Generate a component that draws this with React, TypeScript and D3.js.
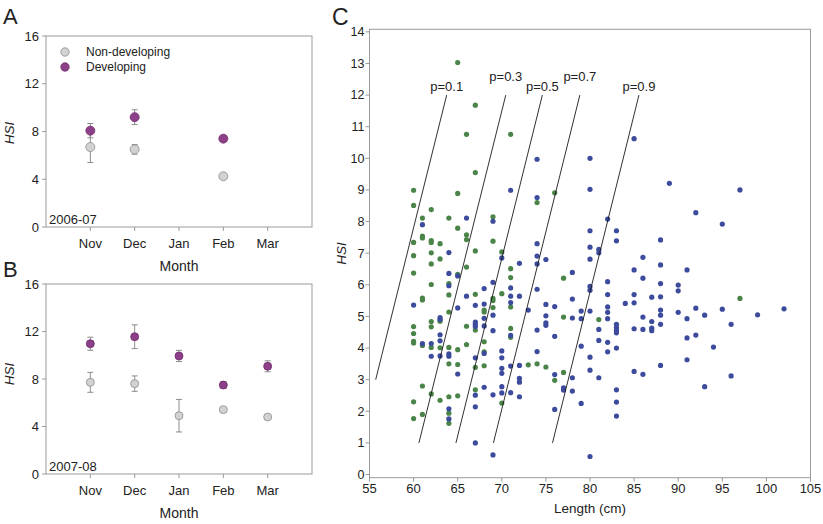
import React from "react";
import * as d3 from "d3";

// ---------- Panels A & B: monthly HSI (mean ± error) ----------
const months = ["Nov", "Dec", "Jan", "Feb", "Mar"];
const yTicksAB = [0, 4, 8, 12, 16];

// 2006-07
const aNonDevMean: (number | null)[] = [6.7, 6.5, null, 4.25, null];
const aNonDevErr: (number | null)[] = [1.3, 0.4, null, 0.05, null];
const aDevMean: (number | null)[] = [8.07, 9.2, null, 7.4, null];
const aDevErr: (number | null)[] = [0.6, 0.62, null, 0.2, null];

// 2007-08
const bNonDevMean: (number | null)[] = [7.72, 7.61, 4.91, 5.42, 4.8];
const bNonDevErr: (number | null)[] = [0.84, 0.65, 1.37, 0.08, 0.08];
const bDevMean: (number | null)[] = [10.97, 11.56, 9.94, 7.49, 9.07];
const bDevErr: (number | null)[] = [0.55, 1.0, 0.47, 0.27, 0.46];

// ---------- Panel C: HSI vs length ----------
const xTicksC = [55, 60, 65, 70, 75, 80, 85, 90, 95, 100, 105];
const yTicksC = [0, 1, 2, 3, 4, 5, 6, 7, 8, 9, 10, 11, 12, 13, 14];

const pLabels = ["p=0.1", "p=0.3", "p=0.5", "p=0.7", "p=0.9"];
// isolines: [length at bottom, HSI at bottom, length at top, HSI at top]
const pLines: [number, number, number, number][] = [
  [55.7, 3.0, 63.75, 12.0],
  [60.6, 1.0, 70.45, 12.0],
  [64.8, 1.0, 74.6, 12.0],
  [69.05, 1.0, 78.85, 12.0],
  [75.75, 1.0, 85.55, 12.0],
];

// green points [length cm, HSI]
const greenPoints: [number, number][] = [
  [65, 13.03], [67, 11.68], [66, 10.76], [71, 10.76], [67, 9.55], [60, 8.99], [65, 8.89], [76, 8.91],
  [60, 8.51], [74, 8.6], [61, 8.11], [62, 8.38], [64, 8.11], [65, 7.79], [69, 8.15], [61, 7.54],
  [61, 7.48], [60, 7.34], [62, 7.4], [62, 7.34], [63, 7.3], [66, 7.58], [66, 7.43], [69, 7.38],
  [67, 7.07], [60, 6.92], [62, 7.01], [70, 7.04], [63, 6.82], [62, 6.66], [66, 6.56], [71, 6.51],
  [60, 6.37], [60, 4.68], [60, 4.46], [60, 4.21], [60, 4.16], [60, 2.3], [60, 1.77],
  [61, 5.58], [61, 5.52], [61, 4.08], [61, 2.8], [61, 1.9],
  [62, 6.01], [62, 4.84], [62, 4.67], [62, 4.02], [62, 2.55],
  [63, 4.85], [63, 4.01], [63, 2.35],
  [64, 6.04], [64, 5.68], [64, 5.14], [64, 4.02], [64, 3.5], [64, 2.46], [64, 1.94], [64, 1.62],
  [65, 6.33], [65, 3.95], [65, 3.48], [65, 2.49],
  [66, 4.69], [66, 4.11],
  [67, 5.7], [67, 4.57], [67, 3.39], [67, 2.68],
  [68, 5.2], [68, 5.14], [68, 4.2], [68, 3.88], [68, 3.44],
  [69, 5.57], [69, 5.5], [69, 5.28],
  [70, 5.72], [70, 2.26],
  [71, 6.23], [71, 5.3], [71, 4.62], [71, 4.34],
  [73, 3.47], [74, 3.5], [75, 3.4], [76, 2.98],
  [77, 6.21], [77, 4.98], [77, 3.23],
  [81, 4.9], [97, 5.57],
];

// blue points [length cm, HSI]
const bluePoints: [number, number][] = [
  [74, 9.97], [71, 8.99], [74, 8.76], [61, 7.9], [66, 8.11], [69, 8.01], [74, 7.3], [64, 7.02],
  [70, 6.85], [72, 6.68], [74, 6.91], [75, 6.8], [74, 6.66],
  [85, 10.62], [80, 10.0], [80, 9.02], [89, 9.21], [97, 9.0], [92, 8.28], [95, 7.92], [82, 8.08],
  [80, 7.71], [83, 7.71], [83, 7.39], [88, 7.42], [80, 7.19], [81, 7.12], [81, 7.01], [80, 6.81],
  [86, 6.87], [88, 6.63], [85, 6.47], [91, 6.47], [78, 6.39],
  [86, 6.21], [82, 6.1], [88, 6.04], [90, 5.99], [90, 5.81], [80, 5.95], [80, 5.83], [78, 5.55],
  [82, 5.69], [85, 5.69], [87, 5.61], [88, 5.62], [84, 5.41], [85, 5.43], [82, 5.3], [79, 5.17],
  [80, 5.17], [82, 5.13], [88, 5.2], [90, 5.13], [92, 5.26], [95, 5.23], [102, 5.24], [99, 5.05],
  [93, 5.04], [91, 4.93], [88, 5.04], [86, 4.98], [82, 4.93], [78, 4.95], [79, 4.93], [87, 4.84],
  [83, 4.75], [83, 4.65], [83, 4.56], [83, 4.48], [88, 4.75], [81, 4.59], [85, 4.61], [86, 4.59],
  [87, 4.63], [87, 4.55], [96, 4.75], [91, 4.32], [92, 4.41], [81, 4.24], [82, 4.18], [82, 3.88],
  [83, 4.0], [79, 4.06], [94, 4.03], [80, 3.71], [91, 3.63], [88, 3.45], [80, 3.3], [85, 3.26],
  [86, 3.17], [78, 3.06], [81, 3.06], [96, 3.12], [93, 2.78], [77, 2.74], [77, 2.67], [78, 2.64],
  [83, 2.68], [79, 2.25], [83, 2.29], [83, 1.85], [80, 0.57],
  [60, 5.36], [61, 4.14], [62, 4.14], [62, 3.74], [63, 4.96], [63, 4.9], [63, 4.42], [63, 4.23],
  [63, 3.75], [64, 6.36], [64, 5.97], [64, 3.82], [64, 3.74], [64, 2.08], [64, 1.76], [65, 6.28],
  [65, 5.27], [65, 3.18], [66, 5.64], [67, 5.35], [67, 4.82], [67, 4.75], [67, 4.68], [67, 3.69],
  [67, 2.51], [67, 2.14], [67, 1.0], [68, 5.88], [68, 5.39], [68, 4.94], [68, 4.7], [68, 3.83],
  [68, 2.76], [69, 6.08], [69, 5.04], [69, 4.55], [69, 2.52], [69, 0.62], [70, 3.91], [70, 3.69],
  [70, 3.36], [70, 3.2], [70, 2.78], [70, 2.58], [71, 5.9], [71, 5.64], [71, 5.44], [71, 4.4],
  [71, 3.43], [71, 2.59], [72, 5.64], [72, 3.45], [72, 3.04], [72, 2.92], [72, 2.46], [73, 5.2],
  [74, 5.86], [74, 4.57], [74, 3.89], [75, 5.38], [75, 5.02], [75, 4.8], [75, 4.72], [76, 5.31],
  [76, 4.37], [76, 3.16], [76, 2.06],
];

const FONT = "'Liberation Sans', Arial, Helvetica, sans-serif";
const AXIS = "#9a9a9a";
const TXT = "#222";
const GREY_FILL = "#d2d2d2";
const GREY_STROKE = "#8c8c8c";
const PURPLE = "#8d3f89";
const PURPLE_STROKE = "#6e2c6a";
const GREEN = "#4b8448";
const BLUE = "#3d4b9c";

type PanelProps = {
  top: number;
  bottom: number;
  nonMean: (number | null)[];
  nonErr: (number | null)[];
  devMean: (number | null)[];
  devErr: (number | null)[];
  year: string;
  legend: boolean;
  r: number;
  hsiY: number;
};

function MonthPanel(p: PanelProps) {
  const x = d3.scaleLinear().domain([-1, 5]).range([46, 312]);
  const y = d3.scaleLinear().domain([0, 16]).range([p.bottom, p.top]);
  const [x0, x1] = x.range();
  const errBars = (mean: (number | null)[], err: (number | null)[], key: string) =>
    mean.map((m, i) => {
      if (m == null || err[i] == null) return null;
      const e = err[i] as number;
      const cx = x(i);
      return (
        <g key={key + i} stroke={GREY_STROKE} strokeWidth={1}>
          <line x1={cx} x2={cx} y1={y(m - e)} y2={y(m + e)} />
          <line x1={cx - 3} x2={cx + 3} y1={y(m - e)} y2={y(m - e)} />
          <line x1={cx - 3} x2={cx + 3} y1={y(m + e)} y2={y(m + e)} />
        </g>
      );
    });
  const dots = (mean: (number | null)[], fill: string, stroke: string, key: string) =>
    mean.map((m, i) =>
      m == null ? null : (
        <circle key={key + i} cx={x(i)} cy={y(m)} r={p.r} fill={fill} stroke={stroke} strokeWidth={0.8} />
      )
    );
  return (
    <g fontFamily={FONT}>
      <rect x={x0} y={p.top} width={x1 - x0} height={p.bottom - p.top} fill="none" stroke={AXIS} />
      {yTicksAB.map((t) => (
        <g key={"yt" + t}>
          <line x1={x0 - 4} x2={x0} y1={y(t)} y2={y(t)} stroke={AXIS} />
          <text x={x0 - 7} y={y(t)} dy="0.35em" textAnchor="end" fontSize={13} fill={TXT}>
            {t}
          </text>
        </g>
      ))}
      {months.map((m, i) => (
        <g key={"xt" + m}>
          <line x1={x(i)} x2={x(i)} y1={p.bottom} y2={p.bottom + 4} stroke={AXIS} />
          <text x={x(i)} y={p.bottom + 21} textAnchor="middle" fontSize={13} fill={TXT}>
            {m}
          </text>
        </g>
      ))}
      <text x={x(2)} y={p.bottom + 44} textAnchor="middle" fontSize={14} fill={TXT}>
        Month
      </text>
      <text
        transform={`translate(14,${p.hsiY}) rotate(-90)`}
        textAnchor="middle"
        fontSize={13.5}
        fontStyle="italic"
        fill={TXT}
      >
        HSI
      </text>
      <text x={x0 + 3} y={p.bottom - 3} fontSize={13} fill={TXT}>
        {p.year}
      </text>
      {errBars(p.nonMean, p.nonErr, "ne")}
      {dots(p.nonMean, GREY_FILL, GREY_STROKE, "nd")}
      {errBars(p.devMean, p.devErr, "de")}
      {dots(p.devMean, PURPLE, PURPLE_STROKE, "dd")}
      {p.legend && (
        <g>
          <circle cx={65} cy={52} r={4.2} fill={GREY_FILL} stroke={GREY_STROKE} strokeWidth={0.8} />
          <text x={86} y={52} dy="0.35em" fontSize={12} fill={TXT}>
            Non-developing
          </text>
          <circle cx={65} cy={67} r={4.2} fill={PURPLE} stroke={PURPLE_STROKE} strokeWidth={0.8} />
          <text x={86} y={67} dy="0.35em" fontSize={12} fill={TXT}>
            Developing
          </text>
        </g>
      )}
    </g>
  );
}

function ScatterPanel() {
  const x = d3.scaleLinear().domain([55, 105]).range([369.5, 810.5]);
  const y = d3.scaleLinear().domain([-0.1, 14.08]).range([477.7, 29.3]);
  const [x0, x1] = x.range();
  const [yb, yt] = y.range();
  return (
    <g fontFamily={FONT}>
      <rect x={x0} y={yt} width={x1 - x0} height={yb - yt} fill="none" stroke={AXIS} />
      {yTicksC.map((t) => (
        <g key={"cy" + t}>
          <line x1={x0 - 4} x2={x0} y1={y(t)} y2={y(t)} stroke={AXIS} />
          <text x={x0 - 5} y={y(t)} dy="0.35em" textAnchor="end" fontSize={12.5} fill={TXT}>
            {t}
          </text>
        </g>
      ))}
      {xTicksC.map((t) => (
        <g key={"cx" + t}>
          <line x1={x(t)} x2={x(t)} y1={yb} y2={yb + 4} stroke={AXIS} />
          <text x={x(t)} y={yb + 15} textAnchor="middle" fontSize={13} fill={TXT}>
            {t}
          </text>
        </g>
      ))}
      <text x={(x0 + x1) / 2} y={513} textAnchor="middle" fontSize={13.5} fill={TXT}>
        Length (cm)
      </text>
      <text
        transform={`translate(346,${(yt + yb) / 2}) rotate(-90)`}
        textAnchor="middle"
        fontSize={13.5}
        fontStyle="italic"
        fill={TXT}
      >
        HSI
      </text>
      {greenPoints.map((d, i) => (
        <circle key={"g" + i} cx={x(d[0])} cy={y(d[1])} r={2.6} fill={GREEN} />
      ))}
      {bluePoints.map((d, i) => (
        <circle key={"b" + i} cx={x(d[0])} cy={y(d[1])} r={2.6} fill={BLUE} />
      ))}
      {pLines.map((l, i) => (
        <g key={"pl" + i}>
          <line x1={x(l[0])} y1={y(l[1])} x2={x(l[2])} y2={y(l[3])} stroke="#1a1a1a" strokeWidth={0.9} />
          <text
            x={x(l[2])}
            y={y(l[3]) - (i % 2 === 1 ? 14 : 4)}
            textAnchor="middle"
            fontSize={13}
            fill={TXT}
          >
            {pLabels[i]}
          </text>
        </g>
      ))}
    </g>
  );
}

export default function App() {
  return (
    <svg
      width={823}
      height={524}
      viewBox="0 0 823 524"
      style={{ position: "absolute", left: 0, top: 0, background: "#fff" }}
    >
      <rect x={0} y={0} width={823} height={524} fill="#fff" />
      <text x={3} y={24} fontSize={22} fontFamily={FONT} fill={TXT}>A</text>
      <text x={3} y={277} fontSize={22} fontFamily={FONT} fill={TXT}>B</text>
      <text x={332} y={25} fontSize={23} fontFamily={FONT} fill={TXT}>C</text>
      <MonthPanel
        top={36}
        bottom={227}
        nonMean={aNonDevMean}
        nonErr={aNonDevErr}
        devMean={aDevMean}
        devErr={aDevErr}
        year="2006-07"
        legend={true}
        r={4.5}
        hsiY={133}
      />
      <MonthPanel
        top={284}
        bottom={474}
        nonMean={bNonDevMean}
        nonErr={bNonDevErr}
        devMean={bDevMean}
        devErr={bDevErr}
        year="2007-08"
        legend={false}
        r={4}
        hsiY={374}
      />
      <ScatterPanel />
    </svg>
  );
}
